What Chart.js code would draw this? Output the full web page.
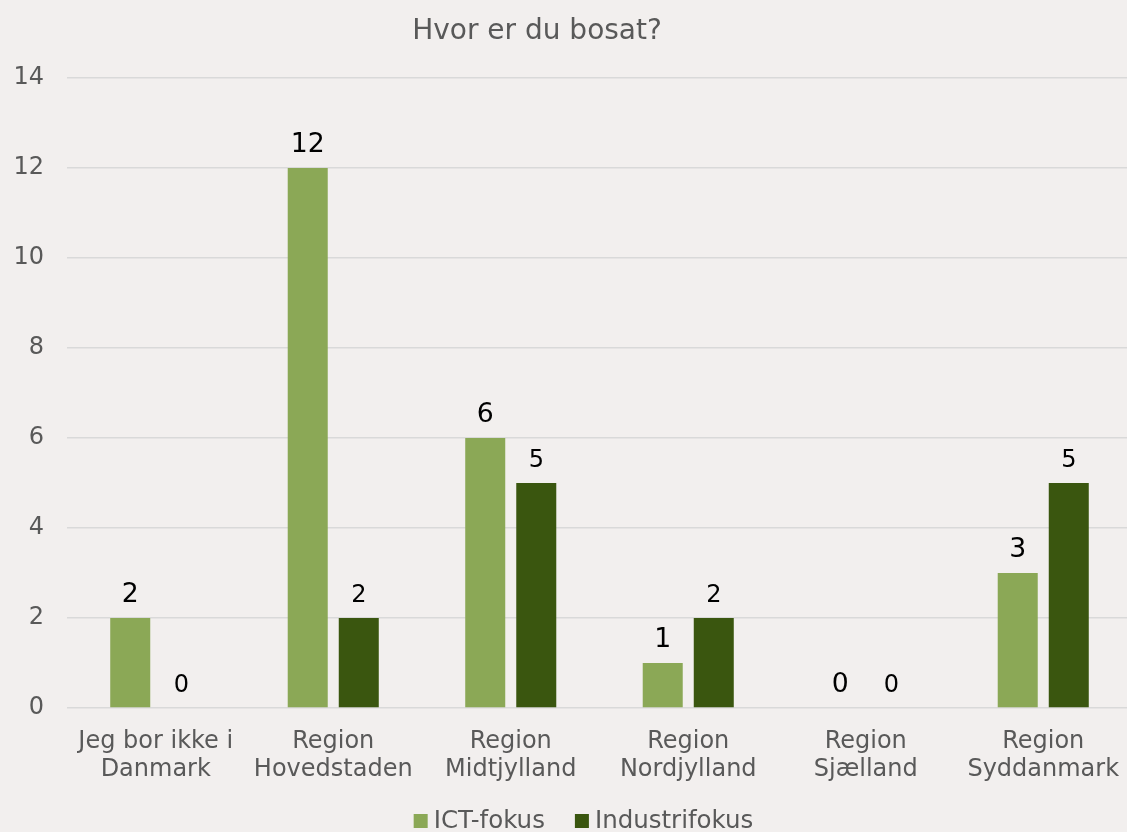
<!DOCTYPE html>
<html><head><meta charset="utf-8">
<script src="https://cdn.jsdelivr.net/npm/chart.js@4.4.1/dist/chart.umd.min.js"></script>
<style>
html,body{margin:0;padding:0;background:#F2EFEE;overflow:hidden;width:1127px;height:832px;}
#c{position:absolute;left:0;top:0;}
</style></head><body>
<canvas id="c" width="1134" height="832"></canvas>
<script>
const categories = [
  ['Jeg bor ikke i', 'Danmark'],
  ['Region', 'Hovedstaden'],
  ['Region', 'Midtjylland'],
  ['Region', 'Nordjylland'],
  ['Region', 'Sjælland'],
  ['Region', 'Syddanmark']
];
const seriesNames = ['ICT-fokus', 'Industrifokus'];
const ictValues = [2, 12, 6, 1, 0, 3];
const industriValues = [0, 2, 5, 2, 0, 5];
const yTicks = [0, 2, 4, 6, 8, 10, 12, 14];
const titleText = 'Hvor er du bosat?';

const FONT = '"DejaVu Sans", Verdana, sans-serif';
const colors = ['#8BA856', '#3A560F'];

const valueLabels = {
  id: 'valueLabels',
  afterDatasetsDraw(chart, args, opts) {
    const ctx = chart.ctx;
    chart.data.datasets.forEach((ds, i) => {
      const meta = chart.getDatasetMeta(i);
      ctx.save();
      ctx.font = opts.sizes[i] + 'px ' + FONT;
      ctx.fillStyle = opts.color;
      ctx.textAlign = 'center';
      ctx.textBaseline = 'alphabetic';
      meta.data.forEach((bar, j) => {
        ctx.fillText(String(ds.data[j]), bar.x, bar.y - opts.offset);
      });
      ctx.restore();
    });
  }
};

const customTitle = {
  id: 'customTitle',
  afterDraw(chart, args, opts) {
    const ctx = chart.ctx;
    ctx.save();
    ctx.font = opts.size + 'px ' + FONT;
    ctx.fillStyle = opts.color;
    ctx.textAlign = 'center';
    ctx.textBaseline = 'alphabetic';
    ctx.fillText(opts.text, opts.x, opts.y);
    ctx.restore();
  }
};

const customLegend = {
  id: 'customLegend',
  afterDraw(chart, args, opts) {
    const ctx = chart.ctx;
    ctx.save();
    ctx.font = opts.size + 'px ' + FONT;
    const items = chart.data.datasets.map(ds => ({
      label: ds.label, color: ds.backgroundColor, w: ctx.measureText(ds.label).width
    }));
    let total = 0;
    items.forEach((it, i) => { total += opts.box + opts.gap + it.w + (i ? opts.spacing : 0); });
    let x = opts.cx - total / 2;
    ctx.textBaseline = 'middle';
    ctx.textAlign = 'left';
    items.forEach(it => {
      ctx.fillStyle = it.color;
      ctx.fillRect(x, opts.cy - opts.box / 2, opts.box, opts.box);
      ctx.fillStyle = opts.color;
      ctx.fillText(it.label, x + opts.box + opts.gap, opts.cy + 1);
      x += opts.box + opts.gap + it.w + opts.spacing;
    });
    ctx.restore();
  }
};

new Chart(document.getElementById('c'), {
  type: 'bar',
  data: {
    labels: categories,
    datasets: [
      { label: seriesNames[0], data: ictValues, backgroundColor: colors[0] },
      { label: seriesNames[1], data: industriValues, backgroundColor: colors[1] }
    ]
  },
  options: {
    responsive: false,
    animation: false,
    devicePixelRatio: 1,
    layout: { padding: { top: 78, bottom: 0, left: 0, right: 2 } },
    datasets: { bar: { barPercentage: 0.784, categoryPercentage: 0.575 } },
    scales: {
      x: {
        grid: { display: false },
        border: { display: false },
        ticks: {
          color: '#595959',
          font: { family: FONT, size: 24, lineHeight: 1.2 },
          padding: 11,
          maxRotation: 0,
          autoSkip: false
        },
        afterFit(s) { s.height = 124; }
      },
      y: {
        min: 0, max: 14,
        grid: { color: '#D9D9D9', lineWidth: 1.5, drawTicks: false },
        border: { display: false },
        ticks: {
          color: '#595959',
          font: { family: FONT, size: 24 },
          padding: 23
        },
        afterBuildTicks(s) { s.ticks = yTicks.map(v => ({ value: v })); },
        afterFit(s) { s.width = 67; }
      }
    },
    plugins: {
      legend: { display: false },
      title: { display: false },
      tooltip: { enabled: false },
      valueLabels: { sizes: [26.7, 24], color: '#000000', offset: 16 },
      customTitle: { text: titleText, size: 28, color: '#595959', x: 537, y: 39 },
      customLegend: { size: 24.5, color: '#595959', box: 14, gap: 6, spacing: 30, cx: 583.5, cy: 821 }
    }
  },
  plugins: [valueLabels, customTitle, customLegend]
});
</script>
</body></html>
